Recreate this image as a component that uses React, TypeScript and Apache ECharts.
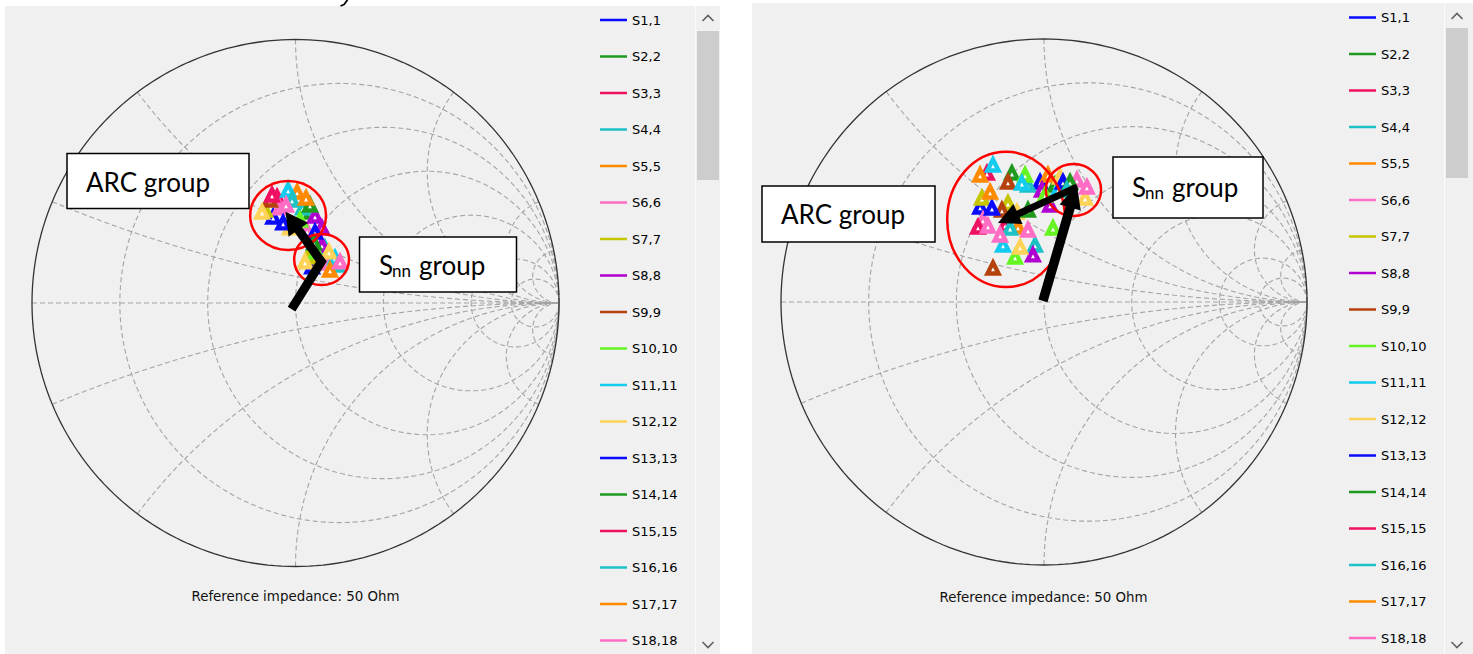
import React, { useEffect, useRef } from "react";
import * as echarts from "echarts";

// ---------- data ----------
const seriesNames = [
  "S1,1", "S2,2", "S3,3", "S4,4", "S5,5", "S6,6", "S7,7", "S8,8", "S9,9",
  "S10,10", "S11,11", "S12,12", "S13,13", "S14,14", "S15,15", "S16,16", "S17,17", "S18,18",
];
const palette = [
  "#0a0aff", "#1f9a1f", "#ee1162", "#1cc2c6", "#ff8a00", "#ff6ec4",
  "#c6c600", "#b000d0", "#b5420c", "#66f522", "#12cbee", "#ffd258",
];
const resistanceValues = [0.2, 0.5, 1, 2, 5, 10];
const reactanceValues = [0.2, 0.5, 1, 2, 5, 10];
const referenceText = "Reference impedance: 50 Ohm";

// [series number, Re(S), Im(S)]
const leftArcGroup = [
  [3, -0.07, 0.402], [11, -0.028, 0.429], [5, 0.006, 0.421], [9, -0.097, 0.391],
  [15, -0.089, 0.41], [16, -0.013, 0.391], [17, 0.04, 0.398], [7, -0.116, 0.353],
  [12, -0.127, 0.345], [6, -0.059, 0.361], [18, -0.036, 0.372], [4, 0.028, 0.361],
  [14, 0.055, 0.372], [2, 0.059, 0.345], [8, 0.074, 0.33], [1, -0.085, 0.326],
  [13, -0.047, 0.304], [10, 0.017, 0.315], [12, -0.021, 0.285], [6, 0.044, 0.273],
  [13, 0.074, 0.269], [8, 0.1, 0.285],
];
const leftSnnGroup = [
  [8, 0.1, 0.22], [14, 0.07, 0.228], [4, 0.112, 0.209], [7, 0.047, 0.175],
  [10, 0.078, 0.194], [12, 0.127, 0.194], [11, 0.15, 0.171], [5, 0.093, 0.156],
  [6, 0.123, 0.152], [18, 0.169, 0.156], [16, 0.161, 0.144], [1, 0.063, 0.137],
  [17, 0.131, 0.125], [12, 0.036, 0.156],
];
const rightArcGroup = [
  [5, -0.243, 0.483], [3, -0.217, 0.49], [11, -0.194, 0.521], [2, -0.122, 0.49],
  [9, -0.137, 0.456], [10, -0.072, 0.483], [11, -0.084, 0.452], [4, -0.061, 0.445],
  [17, -0.205, 0.418], [7, -0.236, 0.395], [1, -0.243, 0.361], [13, -0.198, 0.357],
  [9, -0.16, 0.35], [7, -0.137, 0.376], [12, -0.103, 0.342], [14, -0.061, 0.35],
  [3, -0.148, 0.293], [6, -0.232, 0.312], [15, -0.251, 0.285], [18, -0.213, 0.289],
  [16, -0.129, 0.281], [5, -0.099, 0.285], [6, -0.061, 0.274], [18, -0.167, 0.255],
  [11, -0.156, 0.217], [12, -0.091, 0.209], [4, -0.034, 0.217], [8, -0.042, 0.179],
  [10, -0.11, 0.171], [9, -0.194, 0.129], [10, 0.034, 0.281],
];
const rightSnnGroup = [
  [1, -0.015, 0.456], [8, -0.008, 0.426], [5, 0.015, 0.483], [2, 0.042, 0.445],
  [8, 0.023, 0.369], [11, 0.053, 0.426], [13, 0.072, 0.456], [12, 0.061, 0.475],
  [14, 0.099, 0.456], [16, 0.087, 0.426], [6, 0.125, 0.464], [18, 0.163, 0.437],
  [12, 0.156, 0.395], [10, 0.004, 0.407],
];

// annotations, in reflection-coefficient coordinates
const leftArrows = [[[-0.015, -0.023], [0.098, 0.157], [-0.038, 0.346]]];
const rightArrows = [
  [[-0.004, 0.004], [0.125, 0.447]],
  [[0.125, 0.437], [-0.175, 0.3]],
];
const leftEllipses = [[-0.028, 0.332, 0.144, 0.131], [0.099, 0.165, 0.104, 0.097]];
const rightEllipses = [[-0.144, 0.314, 0.224, 0.257], [0.112, 0.426, 0.105, 0.099]];

// ---------- helpers ----------
const GRID_COLOR = "#a4a4a4";
const LEGEND_FONT = "DejaVu Sans";
const BOX_FONT = "Lato";

function resistanceCircle(r: number) {
  const c = r / (1 + r);
  const rho = 1 / (1 + r);
  const pts: number[][] = [];
  for (let i = 0; i <= 240; i++) {
    const t = (2 * Math.PI * i) / 240;
    pts.push([c + rho * Math.cos(t), rho * Math.sin(t)]);
  }
  return pts;
}

function reactanceArc(x: number) {
  const ax = Math.abs(x);
  const px = (ax * ax - 1) / (ax * ax + 1);
  const py = (2 * ax) / (ax * ax + 1);
  let a0 = Math.atan2(py - 1 / ax, px - 1);
  if (a0 < 0) a0 += 2 * Math.PI;
  const a1 = 1.5 * Math.PI;
  const pts: number[][] = [];
  const n = 160;
  for (let i = 0; i <= n; i++) {
    const a = a0 + ((a1 - a0) * i) / n;
    const gx = 1 + Math.cos(a) / ax;
    const gy = 1 / ax + Math.sin(a) / ax;
    pts.push([gx, x > 0 ? gy : -gy]);
  }
  return pts;
}

function gridSeries(g: number) {
  const out: any[] = [];
  const dashed = { color: GRID_COLOR, width: 1.1, type: [5, 3] };
  const add = (data: number[][], lineStyle: any) =>
    out.push({
      type: "line",
      xAxisIndex: g,
      yAxisIndex: g,
      data,
      showSymbol: false,
      symbol: "none",
      silent: true,
      clip: false,
      z: 1,
      lineStyle,
      emphasis: { disabled: true },
    });
  add([[-1, 0], [1, 0]], dashed);
  resistanceValues.forEach((r) => add(resistanceCircle(r), dashed));
  reactanceValues.forEach((x) => {
    add(reactanceArc(x), dashed);
    add(reactanceArc(-x), dashed);
  });
  add(resistanceCircle(0), { color: "#333333", width: 1.3, type: "solid" });
  return out;
}

function pointsFor(list: number[][], k: number) {
  return list.filter((p) => p[0] === k).map((p) => [p[1], p[2]]);
}

function markerSeries(g: number, arc: number[][], snn: number[][]) {
  return seriesNames.map((name, i) => ({
    type: "scatter",
    name,
    xAxisIndex: g,
    yAxisIndex: g,
    data: pointsFor(arc, i + 1).concat(pointsFor(snn, i + 1)),
    symbol: "triangle",
    symbolSize: 11,
    z: 3,
    itemStyle: { color: "#ffffff", borderColor: palette[i % palette.length], borderWidth: 4.4, opacity: 1 },
  }));
}

function legend(left: number, top: number) {
  return {
    orient: "vertical",
    left,
    top,
    height: 1000,
    padding: 0,
    icon: "rect",
    itemWidth: 27,
    itemHeight: 2.5,
    itemGap: 20.5,
    selectedMode: false,
    textStyle: { fontFamily: LEGEND_FONT, fontSize: 13, color: "#000", lineHeight: 16 },
    data: seriesNames.map((name, i) => ({
      name,
      itemStyle: { color: palette[i % palette.length], borderWidth: 0 },
    })),
  };
}

function buildOption() {
  const axis = (g: number) => ({ gridIndex: g, type: "value", min: -1, max: 1, show: false });
  return {
    animation: false,
    backgroundColor: "#ffffff",
    grid: [
      { left: 32, top: 39.5, width: 527, height: 527 },
      { left: 781, top: 39, width: 526, height: 526 },
    ],
    xAxis: [axis(0), axis(1)],
    yAxis: [axis(0), axis(1)],
    legend: [legend(600, 12), legend(1349, 9.5)],
    series: [
      ...gridSeries(0),
      ...gridSeries(1),
      ...markerSeries(0, leftArcGroup, leftSnnGroup),
      ...markerSeries(1, rightArcGroup, rightSnnGroup),
    ],
  };
}

function buildGraphic(chart: any) {
  const px = (g: number, p: number[]) => chart.convertToPixel({ gridIndex: g }, p) as number[];
  const els: any[] = [];

  // panels
  els.push({ type: "rect", z: -10, shape: { x: 5, y: 6, width: 715, height: 648 }, style: { fill: "#f0f0f0" } });
  els.push({ type: "rect", z: -10, shape: { x: 752, y: 3, width: 721, height: 651 }, style: { fill: "#f0f0f0" } });

  // scrollbars
  const scroll = (sx: number, thumbTop: number, thumbBottom: number, upY: number, top: number) => {
    els.push({ type: "line", z: -9, shape: { x1: sx - 1.5, y1: top, x2: sx - 1.5, y2: 654 }, style: { stroke: "#fbfbfb", lineWidth: 1 } });
    els.push({ type: "rect", z: -8, shape: { x: sx, y: thumbTop, width: 22, height: thumbBottom - thumbTop }, style: { fill: "#cdcdcd" } });
    const cx = sx + 11;
    els.push({ type: "polyline", z: -8, shape: { points: [[cx - 5.5, upY + 3], [cx, upY - 2.5], [cx + 5.5, upY + 3]] }, style: { stroke: "#606060", lineWidth: 1.6, fill: null } });
    els.push({ type: "polyline", z: -8, shape: { points: [[cx - 5.5, 642], [cx, 647.5], [cx + 5.5, 642]] }, style: { stroke: "#606060", lineWidth: 1.6, fill: null } });
  };
  scroll(697, 31, 180, 18, 6);
  scroll(1446, 28, 178, 16, 3);

  // reference texts
  els.push({ type: "text", z: 5, style: { text: referenceText, x: 295.5, y: 596, align: "center", verticalAlign: "middle", font: `13.4px "${LEGEND_FONT}"`, fill: "#111" } });
  els.push({ type: "text", z: 5, style: { text: referenceText, x: 1043.5, y: 597, align: "center", verticalAlign: "middle", font: `13.4px "${LEGEND_FONT}"`, fill: "#111" } });

  // fragment of a glyph cut by the top edge above the left panel
  els.push({ type: "polyline", z: 5, shape: { points: [[347.5, 0], [344, 4.5], [340.5, 6]] }, style: { stroke: "#000", lineWidth: 1.8, fill: null } });

  // ellipses
  const ellipse = (g: number, e: number[]) => {
    const c = px(g, [e[0], e[1]]);
    const rx = px(g, [e[0] + e[2], e[1]])[0] - c[0];
    const ry = c[1] - px(g, [e[0], e[1] + e[3]])[1];
    els.push({ type: "ellipse", z: 6, shape: { cx: c[0], cy: c[1], rx, ry }, style: { fill: null, stroke: "#ff0000", lineWidth: 2.5 } });
  };
  leftEllipses.forEach((e) => ellipse(0, e));
  rightEllipses.forEach((e) => ellipse(1, e));

  // arrows
  const arrow = (g: number, coords: number[][], width: number, headLen: number, headW: number) => {
    const pts = coords.map((c) => px(g, c));
    const tip = pts[pts.length - 1];
    const prev = pts[pts.length - 2];
    const dx = tip[0] - prev[0];
    const dy = tip[1] - prev[1];
    const len = Math.hypot(dx, dy);
    const ux = dx / len, uy = dy / len;
    const bx = tip[0] - ux * headLen, by = tip[1] - uy * headLen;
    const body = pts.slice(0, -1).concat([[bx + ux * 2, by + uy * 2]]);
    els.push({ type: "polyline", z: 8, shape: { points: body }, style: { stroke: "#000", lineWidth: width, fill: null, lineJoin: "miter", lineCap: "butt" } });
    els.push({
      type: "polygon",
      z: 8,
      shape: { points: [tip, [bx - uy * headW / 2, by + ux * headW / 2], [bx + uy * headW / 2, by - ux * headW / 2]] },
      style: { fill: "#000" },
    });
  };
  leftArrows.forEach((a) => arrow(0, a, 9, 22, 24));
  arrow(1, rightArrows[0], 9.5, 24, 22);
  arrow(1, rightArrows[1], 7, 22, 22);

  // text boxes
  const box = (x: number, y: number, w: number, h: number) =>
    els.push({ type: "rect", z: 7, shape: { x, y, width: w, height: h }, style: { fill: "#ffffff", stroke: "#000", lineWidth: 1.5 } });
  const txt = (t: string, x: number, y: number, size: number) =>
    els.push({ type: "text", z: 7, style: { text: t, x, y, verticalAlign: "middle", font: `${size}px ${BOX_FONT}`, fill: "#000" } });

  box(67, 153.5, 182, 55);
  txt("ARC group", 86, 182, 26);
  box(359.5, 237, 157, 55);
  txt("S", 379, 265, 26);
  txt("nn", 392, 270.5, 17);
  txt("group", 419, 265, 26);

  box(762, 186, 173, 56);
  txt("ARC group", 781, 214, 26);
  box(1113, 157, 150, 61);
  txt("S", 1132, 187, 26);
  txt("nn", 1145, 192.5, 17);
  txt("group", 1172, 187, 26);

  return els;
}

export default function App() {
  const ref = useRef<HTMLDivElement>(null);
  useEffect(() => {
    const el = ref.current;
    if (!el) return;
    const chart = echarts.init(el, undefined, { renderer: "svg" });
    chart.setOption(buildOption() as any);
    chart.setOption({ graphic: { elements: buildGraphic(chart) } } as any);
    return () => chart.dispose();
  }, []);
  return <div ref={ref} style={{ position: "fixed", left: 0, top: 0, width: 1473, height: 654 }} />;
}
